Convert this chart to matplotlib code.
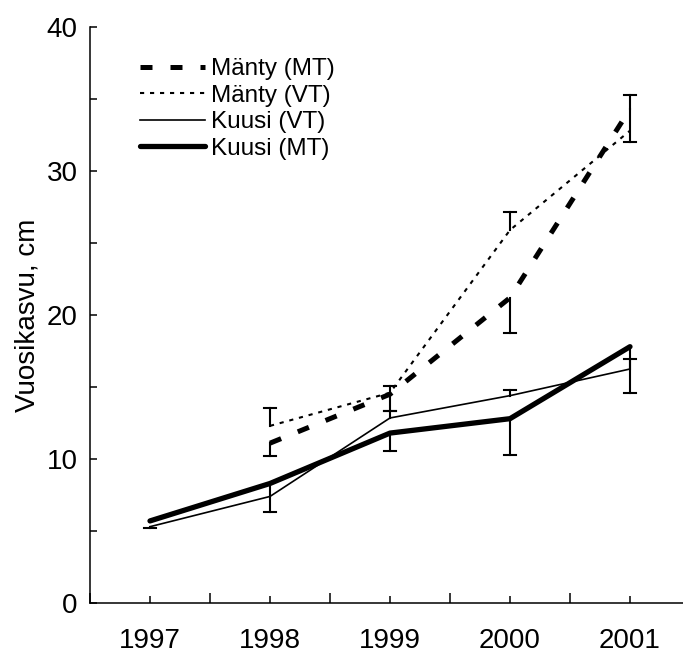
import numpy as np
import matplotlib
matplotlib.use("Agg")
import matplotlib.pyplot as plt
from matplotlib.ticker import MultipleLocator

plt.rcParams['font.family'] = ['Liberation Sans', 'DejaVu Sans']

years = [1997, 1998, 1999, 2000, 2001]

# series values, cm (nan = no value)
manty_mt = [np.nan, 11.1, 14.5, 21.2, 34.3]
manty_vt = [np.nan, 12.3, 14.6, 25.9, 32.8]
kuusi_vt = [5.3, 7.4, 12.85, 14.4, 16.25]
kuusi_mt = [5.7, 8.3, 11.8, 12.8, 17.8]

# error bars: (minus, plus) lengths, 0 = none
manty_mt_err = ([0, 0.9, 1.2, 2.45, 2.3], [0, 0, 0, 0, 1.0])
manty_vt_err = ([0, 0, 0, 0, 0], [0, 1.25, 0.5, 1.25, 0])
kuusi_vt_err = ([0.1, 0, 0, 0, 0], [0, 0, 0.45, 0.4, 0.7])
kuusi_mt_err = ([0, 2.0, 1.25, 2.55, 3.25], [0, 0, 0, 0, 0])

series = [
    ("Mänty (MT)", manty_mt, manty_mt_err, dict(lw=3.6, dashes=(2.4, 3.6), dash_capstyle='butt')),
    ("Mänty (VT)", manty_vt, manty_vt_err, dict(lw=1.5, dashes=(2.0, 2.8))),
    ("Kuusi (VT)", kuusi_vt, kuusi_vt_err, dict(lw=1.2)),
    ("Kuusi (MT)", kuusi_mt, kuusi_mt_err, dict(lw=3.8, solid_capstyle='round')),
]

fig = plt.figure(figsize=(6.83, 6.55), dpi=100)
ax = fig.add_axes([90 / 683, 52 / 655, 593 / 683, 576 / 655])

x = np.array(years, dtype=float)

# error bars first (one-sided, cap at the far end)
for name, vals, (emin, eplus), style in series:
    v = np.array(vals, dtype=float)
    lo = v - np.array(emin)
    hi = v + np.array(eplus)
    for xi, vi, l, h, m, p in zip(x, v, lo, hi, emin, eplus):
        if np.isnan(vi):
            continue
        if m > 0:
            ax.plot([xi, xi], [vi, l], color='black', lw=1.5, zorder=2)
            ax.plot([xi - 0.05, xi + 0.05], [l, l], color='black', lw=1.5, zorder=2)
        if p > 0:
            ax.plot([xi, xi], [vi, h], color='black', lw=1.5, zorder=2)
            ax.plot([xi - 0.05, xi + 0.05], [h, h], color='black', lw=1.5, zorder=2)

for name, vals, err, style in series:
    ax.plot(x, vals, color='black', label=name, zorder=3, **style)

ax.set_xlim(1996.5, 1996.5 + 593 / 120)
ax.set_ylim(0, 40)
ax.set_xticks(years)
ax.set_xticklabels([str(y) for y in years])
ax.set_xticks([y + 0.5 for y in [1996] + years[:-1]], minor=True)
ax.yaxis.set_major_locator(MultipleLocator(10))
ax.yaxis.set_minor_locator(MultipleLocator(5))

ax.tick_params(axis='both', which='both', direction='in', labelsize=20, width=1.1, color='black')
ax.tick_params(axis='x', which='major', length=5, pad=18)
ax.tick_params(axis='x', which='minor', length=7)
ax.tick_params(axis='y', which='both', length=5, pad=9)

for s in ['top', 'right']:
    ax.spines[s].set_visible(False)
for s in ['left', 'bottom']:
    ax.spines[s].set_linewidth(1.1)

ax.set_ylabel("Vuosikasvu, cm", fontsize=20, labelpad=4)

ax.legend(loc='upper left', bbox_to_anchor=(0.055, 0.975), frameon=False, fontsize=17.5,
          handlelength=2.7, handletextpad=0.25, labelspacing=0.18, borderpad=0.2)

fig.savefig("out.png", dpi=100)
